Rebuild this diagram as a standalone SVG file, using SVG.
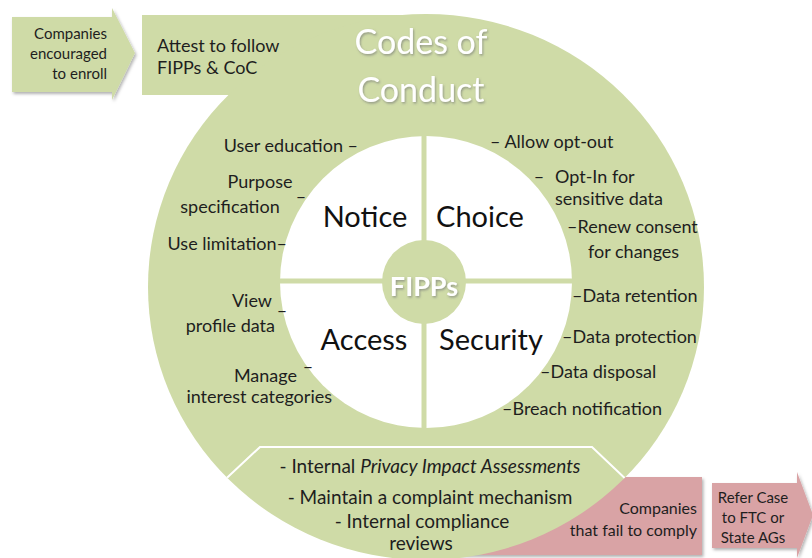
<svg xmlns="http://www.w3.org/2000/svg" width="812" height="558" viewBox="0 0 812 558">
<defs>
<style>
.g{fill:#cfdba7}
.p{fill:#d9a3a5}
.t{font-family:Lato,"Open Sans","Liberation Sans",sans-serif;font-size:18px;fill:#1e1e1e}
.s{font-size:15px}
.b{font-size:19px}
.q{font-family:Lato,"Open Sans","Liberation Sans",sans-serif;font-size:29px;fill:#111}
.w{font-family:Lato,"Open Sans","Liberation Sans",sans-serif;fill:#fff}
.e{text-anchor:end}
.m{text-anchor:middle}
</style>
<filter id="sh" x="-10%" y="-10%" width="130%" height="130%">
<feDropShadow dx="1.5" dy="2" stdDeviation="1.5" flood-color="#000" flood-opacity="0.3"/>
</filter>
<filter id="ts" x="-10%" y="-20%" width="130%" height="150%">
<feDropShadow dx="1" dy="1.5" stdDeviation="1" flood-color="#556" flood-opacity="0.5"/>
</filter>
<clipPath id="cc"><ellipse cx="426" cy="287" rx="278" ry="273"/></clipPath>
</defs>
<rect width="812" height="558" fill="#fff"/>

<g id="fail-box">
<rect class="p" x="440" y="477" width="262" height="78" filter="url(#sh)"/>
<text class="t e" x="697" y="514" style="font-size:16px">Companies</text>
<text class="t e" x="697" y="536" style="font-size:16px">that fail to comply</text>
</g>

<g id="codes-of-conduct">
<rect class="g" x="142" y="15" width="290" height="80"/>
<ellipse class="g" cx="426" cy="287" rx="278" ry="273"/>
<text class="w m" x="421" y="54" font-size="34" filter="url(#ts)">Codes of</text>
<text class="w m" x="421" y="102" font-size="34" filter="url(#ts)">Conduct</text>
<text class="t" x="157" y="52">Attest to follow</text>
<text class="t" x="157" y="74">FIPPs &amp; CoC</text>
</g>

<g id="enroll">
<polygon class="g" points="12,17 112,17 112,8 135,53 112,100 112,92 12,92" filter="url(#sh)"/>
<text class="t s e" x="107" y="39">Companies</text>
<text class="t s e" x="107" y="59">encouraged</text>
<text class="t s e" x="107" y="79">to enroll</text>
</g>

<g id="refer">
<polygon class="p" points="712,483 797,483 797,472 813,515 797,558 797,548 712,548" filter="url(#sh)"/>
<text class="t s m" x="753" y="503">Refer Case</text>
<text class="t s m" x="753" y="523">to FTC or</text>
<text class="t s m" x="753" y="543">State AGs</text>
</g>

<g id="fipps-wheel">
<circle cx="426" cy="282" r="146" fill="#fff"/>
</g>

<g id="connectors">
<line x1="424" y1="134" x2="424" y2="430" stroke="#cfdba7" stroke-width="5"/>
<line x1="279" y1="281" x2="573" y2="281" stroke="#cfdba7" stroke-width="5"/>
<polyline points="215,489 260,447 592,447 632,485" fill="none" stroke="#fff" stroke-width="2" clip-path="url(#cc)"/>
</g>

<g id="fipps">
<circle class="g" cx="424" cy="282" r="42"/>
<text class="w m" x="424" y="296" font-size="27" font-weight="bold" filter="url(#ts)">FIPPs</text>
</g>

<g id="notice">
<text class="q m" x="365" y="227">Notice</text>
<text class="t e" x="358" y="152">User education –</text>
<text class="t m" x="260" y="188">Purpose</text>
<text class="t m" x="230" y="213">specification</text>
<text class="t m" x="301" y="203">–</text>
<text class="t e" x="287" y="250">Use limitation–</text>
</g>

<g id="choice">
<text class="q m" x="480" y="227">Choice</text>
<text class="t" x="490" y="148">– Allow opt-out</text>
<text class="t m" x="539" y="183">–</text>
<text class="t" x="555" y="183">Opt-In for</text>
<text class="t" x="555" y="205">sensitive data</text>
<text class="t" x="567" y="233">–Renew consent</text>
<text class="t" x="588" y="258">for changes</text>
</g>

<g id="access">
<text class="q m" x="364" y="350">Access</text>
<text class="t e" x="272" y="307">View</text>
<text class="t m" x="282" y="317">–</text>
<text class="t e" x="275" y="332">profile data</text>
<text class="t e" x="297" y="382">Manage</text>
<text class="t m" x="308" y="373">–</text>
<text class="t e" x="332" y="403">interest categories</text>
</g>

<g id="security">
<text class="q m" x="491" y="350">Security</text>
<text class="t" x="572" y="302">–Data retention</text>
<text class="t" x="562" y="343">–Data protection</text>
<text class="t" x="540" y="378">–Data disposal</text>
<text class="t" x="502" y="415">–Breach notification</text>
</g>

<g id="internal">
<text class="t b m" x="430" y="473">- Internal <tspan font-style="italic">Privacy Impact Assessments</tspan></text>
<text class="t b m" x="430" y="504">- Maintain a complaint mechanism</text>
<text class="t b m" x="422" y="528">- Internal compliance</text>
<text class="t b m" x="421" y="550">reviews</text>
</g>
</svg>
